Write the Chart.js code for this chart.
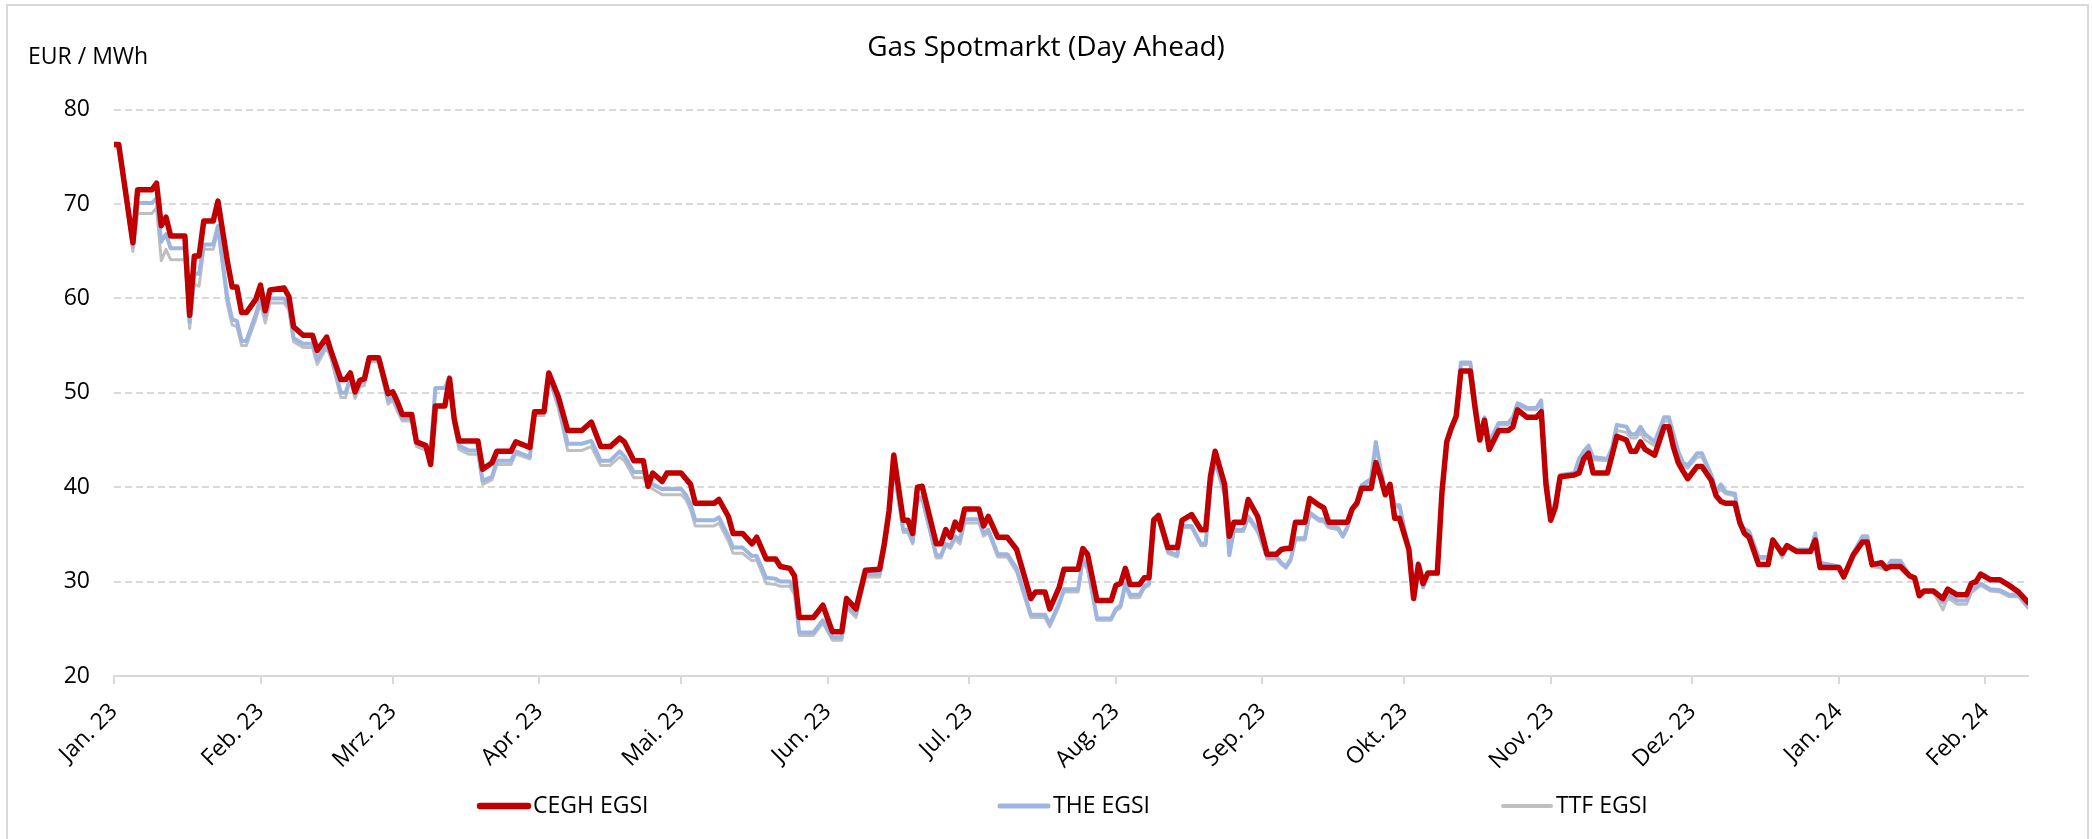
<!DOCTYPE html>
<html>
<head>
<meta charset="utf-8">
<title>Gas Spotmarkt (Day Ahead)</title>
<script src="https://cdn.jsdelivr.net/npm/chart.js@4.4.1/dist/chart.umd.min.js"></script>
<style>
  html, body { margin: 0; padding: 0; background: #fff; }
  #wrap { position: relative; width: 2092px; height: 839px; overflow: hidden; }
  #frame { position: absolute; left: 6px; top: 4px; width: 2083px; height: 900px; border: 2px solid #d9d9d9; box-sizing: border-box; }
  canvas { position: absolute; left: 0; top: 0; }
</style>
</head>
<body>
<div id="wrap">
  <div id="frame"></div>
  <canvas id="gasChart" width="2092" height="839"></canvas>
</div>
<script>
// days counted from 1 Jan 2023
const days = [
  0, 1, 4, 5, 8, 9, 10, 11, 12, 15, 16, 17, 18, 19, 21, 22, 24, 25, 26, 27, 28, 30, 31, 32, 33, 36, 37, 38, 40, 42,
  43, 45, 46, 48, 49, 50, 51, 52, 53, 54, 56, 58, 59, 60, 61, 63, 64, 66, 67, 68, 70, 71, 72, 73, 75, 77, 78, 80, 81, 84,
  85, 88, 89, 91, 92, 94, 96, 99, 101, 103, 105, 107, 108, 110, 112, 113, 114, 116, 117, 120, 121, 122, 123, 127, 128, 130, 131, 133, 135, 136,
  138, 140, 141, 143, 144, 145, 148, 150, 152, 154, 155, 157, 159, 162, 163, 164, 165, 167, 168, 169, 170, 171, 174, 175, 176, 177, 178, 179, 180, 183,
  184, 185, 187, 189, 191, 194, 195, 197, 198, 200, 201, 204, 205, 206, 208, 211, 212, 213, 214, 215, 217, 218, 219, 220, 221, 223, 225, 226, 228, 230,
  231, 232, 233, 235, 236, 237, 239, 240, 242, 244, 246, 247, 248, 249, 250, 252, 253, 255, 256, 257, 259, 260, 261, 262, 263, 264, 266, 267, 268, 269,
  270, 271, 272, 274, 275, 276, 277, 278, 280, 281, 282, 283, 284, 285, 287, 288, 289, 290, 291, 293, 295, 296, 297, 299, 301, 302, 303, 304, 305, 306,
  309, 310, 311, 312, 313, 316, 317, 318, 320, 321, 322, 323, 324, 326, 328, 329, 330, 331, 332, 333, 335, 336, 338, 339, 340, 341, 343, 344, 345, 346,
  348, 350, 351, 353, 354, 356, 359, 360, 361, 365, 366, 368, 370, 371, 372, 374, 375, 376, 378, 380, 381, 382, 383, 385, 387, 388, 390, 392, 393, 394,
  395, 397, 399, 401, 403, 405
];

const ceghEgsi = [
  76.3, 76.3, 65.9, 71.5, 71.5, 72.2, 67.7, 68.6, 66.6, 66.6, 58.2, 64.5, 64.5, 68.2, 68.2, 70.3, 63.9, 61.2, 61.2, 58.5, 58.5, 59.9, 61.4, 58.7, 60.9, 61.1, 60.2, 57.0, 56.1, 56.1,
  54.5, 55.9, 54.3, 51.4, 51.4, 52.1, 50.1, 51.3, 51.5, 53.7, 53.7, 49.9, 50.1, 49.0, 47.7, 47.7, 44.8, 44.4, 42.4, 48.6, 48.6, 51.5, 47.2, 44.9, 44.9, 44.9, 41.9, 42.6, 43.8, 43.8,
  44.8, 44.2, 48.0, 48.0, 52.1, 49.6, 46.0, 46.0, 46.9, 44.3, 44.3, 45.2, 44.8, 42.8, 42.8, 40.1, 41.5, 40.6, 41.5, 41.5, 40.9, 40.3, 38.3, 38.3, 38.7, 36.9, 35.1, 35.1, 34.0, 34.7,
  32.4, 32.4, 31.6, 31.4, 30.6, 26.2, 26.2, 27.5, 24.7, 24.7, 28.2, 27.1, 31.2, 31.3, 34.0, 37.5, 43.4, 36.5, 36.5, 35.1, 40.0, 40.1, 34.0, 34.0, 35.5, 34.7, 36.3, 35.5, 37.7, 37.7,
  35.9, 36.9, 34.7, 34.7, 33.4, 28.2, 28.9, 28.9, 27.1, 29.4, 31.3, 31.3, 33.5, 32.9, 28.0, 28.0, 29.6, 29.8, 31.4, 29.7, 29.7, 30.4, 30.4, 36.5, 37.0, 33.6, 33.6, 36.5, 37.1, 35.5,
  35.5, 41.1, 43.8, 40.3, 34.8, 36.3, 36.3, 38.7, 36.9, 32.9, 32.9, 33.4, 33.5, 33.5, 36.3, 36.3, 38.8, 38.1, 37.8, 36.3, 36.3, 36.3, 36.3, 37.7, 38.3, 39.9, 39.9, 42.6, 41.1, 39.2,
  40.3, 36.7, 36.7, 33.4, 28.2, 31.8, 29.8, 30.9, 30.9, 39.5, 44.8, 46.3, 47.5, 52.3, 52.3, 48.4, 45.0, 47.1, 44.0, 46.0, 46.0, 46.4, 48.2, 47.4, 47.4, 48.0, 40.3, 36.5, 37.9, 41.1,
  41.3, 41.5, 43.0, 43.6, 41.5, 41.5, 43.4, 45.4, 45.0, 43.8, 43.8, 44.8, 44.0, 43.4, 46.4, 46.4, 44.2, 42.6, 41.7, 40.9, 42.2, 42.2, 40.7, 39.1, 38.5, 38.3, 38.3, 36.3, 35.1, 34.7,
  31.8, 31.8, 34.4, 33.0, 33.8, 33.2, 33.2, 34.4, 31.5, 31.5, 30.5, 32.8, 34.2, 34.2, 31.8, 32.0, 31.4, 31.6, 31.6, 30.6, 30.4, 28.5, 29.0, 29.0, 28.2, 29.2, 28.6, 28.6, 29.8, 30.0,
  30.8, 30.2, 30.2, 29.6, 28.9, 27.8
];

const theEgsi = [
  76.3, 76.1, 65.5, 70.1, 70.1, 70.6, 66.0, 66.8, 65.3, 65.3, 57.5, 62.6, 62.6, 65.7, 65.7, 67.7, 60.0, 57.8, 57.6, 55.5, 55.5, 58.3, 60.0, 58.2, 60.0, 60.0, 59.2, 55.8, 55.2, 55.2,
  53.5, 55.2, 53.8, 50.0, 50.0, 51.6, 49.8, 51.0, 51.2, 53.5, 53.5, 49.2, 49.6, 48.4, 47.3, 47.3, 44.6, 44.2, 43.8, 50.5, 50.5, 51.7, 46.8, 44.4, 43.9, 43.9, 40.7, 41.1, 42.8, 42.8,
  43.8, 43.2, 48.0, 48.0, 51.7, 48.8, 44.6, 44.6, 44.9, 42.8, 42.8, 43.8, 43.3, 41.6, 41.6, 40.6, 40.3, 39.8, 39.8, 39.8, 39.2, 38.2, 36.5, 36.5, 36.8, 34.8, 33.6, 33.6, 32.7, 32.7,
  30.4, 30.3, 30.0, 30.0, 29.2, 24.6, 24.6, 25.9, 24.1, 24.1, 27.5, 26.5, 30.8, 30.8, 33.6, 37.1, 42.2, 35.5, 35.5, 34.2, 38.9, 38.9, 32.8, 32.8, 34.0, 33.8, 34.8, 34.4, 36.6, 36.6,
  35.1, 35.5, 32.9, 32.9, 31.4, 26.5, 26.5, 26.5, 25.5, 27.7, 29.2, 29.2, 32.4, 31.6, 26.1, 26.1, 27.1, 27.5, 29.8, 28.6, 28.6, 29.5, 29.8, 36.7, 36.7, 33.2, 32.8, 35.9, 35.9, 34.0,
  34.0, 40.0, 42.8, 39.5, 32.8, 35.5, 35.5, 36.9, 35.5, 32.6, 32.6, 32.0, 31.6, 32.4, 34.6, 34.6, 37.3, 36.6, 36.6, 35.9, 35.7, 34.8, 35.8, 37.7, 38.5, 40.2, 40.9, 44.8, 42.0, 39.5,
  40.3, 38.1, 38.1, 33.4, 29.0, 32.0, 29.4, 30.9, 30.9, 39.5, 44.8, 46.3, 47.6, 53.2, 53.2, 49.2, 45.6, 47.4, 44.8, 46.8, 46.8, 47.4, 48.9, 48.4, 48.4, 49.2, 41.1, 37.5, 38.3, 41.3,
  41.5, 43.0, 43.8, 44.4, 43.2, 43.0, 44.2, 46.6, 46.4, 45.6, 45.6, 46.4, 45.6, 44.8, 47.4, 47.4, 45.6, 43.8, 42.6, 42.3, 43.6, 43.6, 41.3, 39.5, 40.3, 39.5, 39.3, 36.0, 35.6, 35.3,
  32.6, 32.6, 34.4, 32.8, 33.8, 33.4, 33.4, 35.1, 32.0, 31.6, 30.5, 33.0, 34.8, 34.8, 31.8, 31.6, 31.4, 32.2, 32.2, 30.6, 30.4, 28.6, 29.0, 29.0, 27.8, 28.6, 28.0, 28.0, 29.2, 29.4,
  29.8, 29.2, 29.1, 28.6, 28.6, 27.3
];

const ttfEgsi = [
  76.3, 75.9, 65.0, 69.0, 69.0, 69.6, 64.0, 65.2, 64.1, 64.1, 56.8, 61.5, 61.3, 65.2, 65.2, 67.2, 59.3, 57.2, 57.0, 55.0, 55.0, 57.8, 59.5, 57.4, 59.5, 59.5, 58.8, 55.4, 54.8, 54.8,
  53.0, 54.8, 53.5, 49.5, 49.5, 51.4, 49.4, 50.6, 50.8, 53.3, 53.3, 48.8, 49.2, 48.0, 47.0, 47.0, 44.3, 43.9, 43.4, 50.5, 50.5, 51.5, 46.5, 44.0, 43.5, 43.5, 40.3, 40.8, 42.4, 42.4,
  43.5, 43.0, 47.6, 47.6, 51.6, 48.4, 43.9, 43.9, 44.3, 42.3, 42.3, 43.2, 42.8, 41.0, 41.0, 40.2, 39.8, 39.2, 39.2, 39.2, 38.7, 37.6, 35.9, 35.9, 36.2, 34.3, 33.0, 33.0, 32.2, 32.3,
  29.8, 29.7, 29.5, 29.5, 28.6, 24.3, 24.3, 25.6, 23.8, 23.8, 27.2, 26.2, 30.5, 30.5, 33.2, 36.6, 41.8, 35.2, 35.2, 34.0, 38.6, 38.6, 32.5, 32.5, 33.8, 33.5, 34.5, 34.0, 36.2, 36.2,
  34.8, 35.2, 32.6, 32.6, 31.0, 26.2, 26.2, 26.2, 25.2, 27.4, 28.9, 28.9, 32.1, 31.3, 25.9, 25.9, 26.9, 27.2, 29.5, 28.3, 28.3, 29.3, 29.6, 36.5, 36.5, 33.0, 32.6, 35.7, 35.7, 33.8,
  33.8, 39.8, 42.6, 39.0, 32.8, 35.3, 35.3, 36.7, 35.2, 32.4, 32.4, 31.8, 31.4, 32.2, 34.4, 34.4, 37.1, 36.4, 36.3, 35.7, 35.5, 34.7, 35.6, 37.5, 38.3, 40.0, 40.7, 44.6, 41.8, 39.3,
  40.2, 37.9, 37.9, 33.2, 29.5, 31.8, 29.8, 30.8, 30.8, 39.3, 44.6, 46.1, 47.4, 53.0, 53.0, 49.0, 45.3, 47.2, 44.6, 46.6, 46.6, 47.2, 48.7, 48.2, 48.2, 49.0, 40.9, 37.3, 38.1, 41.1,
  41.3, 42.8, 43.6, 44.2, 42.9, 42.8, 44.0, 46.0, 45.8, 45.2, 45.2, 45.8, 45.0, 44.4, 47.0, 47.0, 45.2, 43.5, 42.4, 42.0, 43.2, 43.2, 41.0, 39.3, 39.8, 39.3, 39.1, 36.0, 35.4, 35.0,
  32.4, 32.4, 34.5, 32.5, 33.6, 33.3, 33.3, 35.0, 31.8, 31.4, 30.3, 32.8, 34.6, 34.6, 31.6, 31.4, 31.2, 32.0, 32.0, 30.5, 30.3, 28.6, 28.9, 28.9, 27.0, 28.3, 27.6, 27.6, 28.8, 29.2,
  29.6, 29.0, 28.9, 28.4, 28.4, 27.2
];

const seriesNames = ['CEGH EGSI', 'THE EGSI', 'TTF EGSI'];
const monthTicks = [0, 31, 59, 90, 120, 151, 181, 212, 243, 273, 304, 334, 365, 396];
const monthLabels = ['Jan. 23', 'Feb. 23', 'Mrz. 23', 'Apr. 23', 'Mai. 23', 'Jun. 23', 'Jul. 23',
  'Aug. 23', 'Sep. 23', 'Okt. 23', 'Nov. 23', 'Dez. 23', 'Jan. 24', 'Feb. 24'];
const chartTitle = 'Gas Spotmarkt (Day Ahead)';
const unitLabel = 'EUR / MWh';

Chart.defaults.font.family = "'Open Sans', sans-serif";
Chart.defaults.color = '#000';

const toPoints = values => days.map((d, i) => ({ x: d, y: values[i] }));

// unit label top left + legend spread over the bottom like the original
const extraText = {
  id: 'extraText',
  afterDraw(chart) {
    const ctx = chart.ctx;
    ctx.save();
    ctx.font = "23px 'Open Sans'";
    ctx.fillStyle = '#000';
    ctx.textBaseline = 'middle';
    ctx.textAlign = 'left';
    ctx.fillText(unitLabel, 28, 57);

    const legendX = [477, 997, 1500];
    const y = 806;
    chart.data.datasets.forEach((ds, i) => {
      const x = legendX[i];
      ctx.strokeStyle = ds.borderColor;
      ctx.lineWidth = ds.borderWidth + 1;
      ctx.lineCap = 'round';
      ctx.beginPath();
      ctx.moveTo(x + 3, y);
      ctx.lineTo(x + 51, y);
      ctx.stroke();
      ctx.fillText(ds.label, x + 56, y);
    });
    ctx.restore();
  }
};

const ctx = document.getElementById('gasChart').getContext('2d');
new Chart(ctx, {
  type: 'line',
  data: {
    datasets: [{
      label: seriesNames[0],
      data: toPoints(ceghEgsi),
      borderColor: '#C00000',
      borderWidth: 5.5
    }, {
      label: seriesNames[1],
      data: toPoints(theEgsi),
      borderColor: '#9DB5DF',
      borderWidth: 4
    }, {
      label: seriesNames[2],
      data: toPoints(ttfEgsi),
      borderColor: '#BFBFBF',
      borderWidth: 3
    }]
  },
  options: {
    responsive: false,
    animation: false,
    layout: { padding: { left: 64, right: 64, top: 0, bottom: 43 } },
    elements: {
      point: { radius: 0 },
      line: { tension: 0, borderJoinStyle: 'round', borderCapStyle: 'round', fill: false }
    },
    plugins: {
      legend: { display: false },
      tooltip: { enabled: false },
      title: {
        display: true,
        text: chartTitle,
        font: { size: 28, weight: 'normal' },
        color: '#000',
        padding: { top: 31, bottom: 45 }
      }
    },
    scales: {
      x: {
        type: 'linear',
        min: 0,
        max: 405,
        afterBuildTicks: scale => { scale.ticks = monthTicks.map(v => ({ value: v })); },
        afterFit: scale => { scale.height = 120; scale.paddingLeft = 0; scale.paddingRight = 0; },
        grid: { drawOnChartArea: false, drawTicks: true, tickLength: 8, color: '#d9d9d9', lineWidth: 2 },
        border: { display: true, color: '#d9d9d9', width: 2 },
        ticks: {
          autoSkip: false,
          minRotation: 45,
          maxRotation: 45,
          padding: 14,
          font: { size: 23 },
          color: '#000',
          callback: value => monthLabels[monthTicks.indexOf(value)]
        }
      },
      y: {
        min: 20,
        max: 80,
        afterFit: scale => { scale.width = 50; },
        ticks: { stepSize: 10, padding: 24, font: { size: 23 }, color: '#000' },
        grid: { color: '#d9d9d9', lineWidth: 2, drawTicks: false },
        border: { display: false, dash: [7, 4] }
      }
    }
  },
  plugins: [extraText]
});
</script>
</body>
</html>
